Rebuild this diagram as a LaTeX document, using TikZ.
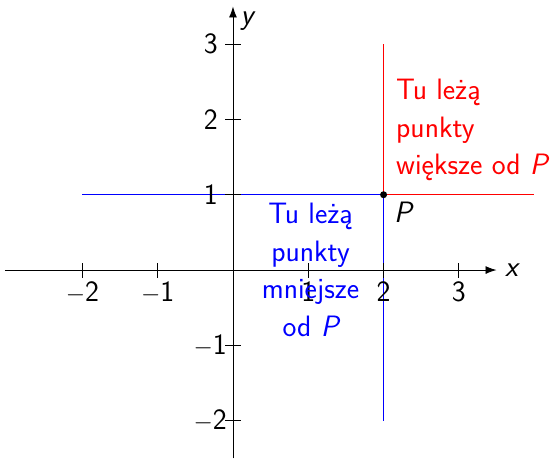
\documentclass[tikz,border=0pt]{standalone}
\usepackage{fontspec}
\usetikzlibrary{arrows.meta}
\begin{document}
\begin{tikzpicture}[x=75.3pt,y=75.3pt,
  every node/.style={font=\fontsize{29.5}{37.5}\selectfont\sffamily, inner sep=0pt},
  axisline/.style={line width=0.9pt, -{Latex[length=11pt,width=8pt]}},
  tickmark/.style={line width=0.8pt},
  bluel/.style={blue, line width=1.1pt},
  redl/.style={red, line width=1.1pt},
  xlab/.style={anchor=north},
  ylab/.style={anchor=east}]
\useasboundingbox (-3.094,-2.497) rectangle (4.303,3.586);
% axes
\coordinate (xs) at (-3.03,0);
\coordinate (xe) at (3.5,0);
\coordinate (ys) at (0,-2.5);
\coordinate (ye) at (0,3.5);
\coordinate (P) at (2,1);
\coordinate (bl) at (-2,1);
\coordinate (bd) at (2,-2);
\coordinate (rr) at (4,1);
\coordinate (ru) at (2,3);
% blue and red lines
\draw[bluel] (bl) -- (P);
\draw[bluel] (P) -- (bd);
\draw[redl] (P) -- (rr);
\draw[redl] (P) -- (ru);
\draw[axisline] (xs) -- (xe);
\draw[axisline] (ys) -- (ye);
% ticks
\foreach \i in {-2,-1,1,2,3} {
  \draw[tickmark] (\i,-0.1) -- (\i,0.1);
}
\foreach \i in {-2,-1,1,2,3} {
  \draw[tickmark] (-0.1,\i) -- (0.1,\i);
}
% tick labels
\node[xlab] (tx1) at (-2,-0.15) {$-$2};
\node[xlab] (tx2) at (-1,-0.15) {$-$1};
\node[xlab] (tx3) at (1,-0.15) {1};
\node[xlab] (tx4) at (2,-0.15) {2};
\node[xlab] (tx5) at (3,-0.15) {3};
\node[ylab] (ty1) at (-0.2,1) {1};
\node[ylab] (ty2) at (-0.2,2) {2};
\node[ylab] (ty3) at (-0.2,3) {3};
\node[ylab] (ty4) at (-0.08,-1) {$-$1};
\node[ylab] (ty5) at (-0.08,-2) {$-$2};
% axis labels
\node[anchor=west] (xl) at (3.61,0) {\itshape x};
\node[anchor=north west] (yl) at (0.1,3.43) {\itshape y};
% point
\fill (P) circle (3.5pt);
\node[anchor=north west] (pl) at (2.138,0.903) {\itshape P};
% texts
\node[anchor=north west, align=left, text=red] (rt) at (2.165,2.536)
  {Tu leżą\\punkty\\większe od \itshape P};
\node[anchor=north, align=center, text=blue] (bt) at (1.03,0.89)
  {Tu leżą\\punkty\\mniejsze\\od \itshape P};
\end{tikzpicture}
\end{document}
